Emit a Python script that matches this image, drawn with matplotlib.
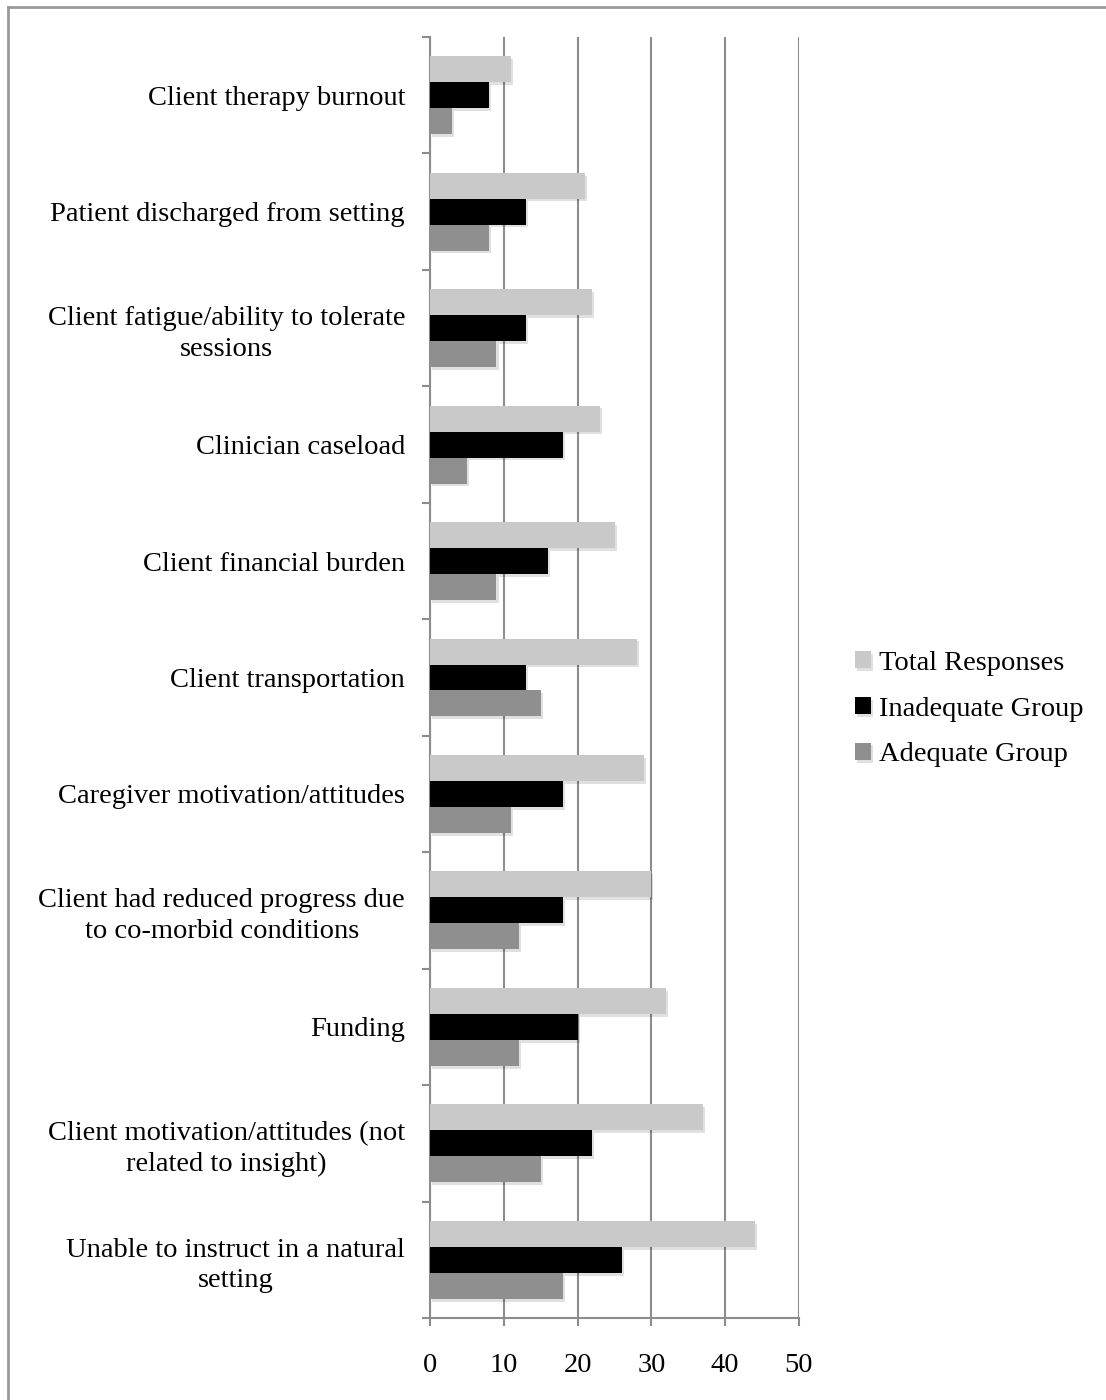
import numpy as np
import matplotlib.pyplot as plt
import matplotlib.patheffects as pe
from matplotlib.lines import Line2D

plt.rcParams['font.family'] = ['Liberation Serif', 'DejaVu Serif']

# categories listed bottom to top
categorias = [
    "Unable to instruct in a natural\nsetting",
    "Client motivation/attitudes (not\nrelated to insight)",
    "Funding",
    "Client had reduced progress due\nto co-morbid conditions",
    "Caregiver motivation/attitudes",
    "Client transportation",
    "Client financial burden",
    "Clinician caseload",
    "Client fatigue/ability to tolerate\nsessions",
    "Patient discharged from setting",
    "Client therapy burnout",
]
total = [44, 37, 32, 30, 29, 28, 25, 23, 22, 21, 11]
inadecuado = [26, 22, 20, 18, 18, 13, 16, 18, 13, 13, 8]
adecuado = [18, 15, 12, 12, 11, 15, 9, 5, 9, 8, 3]

series = [
    ("Total Responses", total, "#c9c9c9"),
    ("Inadequate Group", inadecuado, "#000000"),
    ("Adequate Group", adecuado, "#8f8f8f"),
]
ticks_x = [0, 10, 20, 30, 40, 50]

gris = "#8c8c8c"
fs = 20.5
W, H = 1106, 1400
fig = plt.figure(figsize=(W / 100, H / 100), dpi=100)
ax = fig.add_axes([430 / W, 1 - 1318 / H, (799 - 430) / W, (1318 - 37) / H])

y = np.arange(len(categorias))
alto = 0.223
sombra = [pe.SimplePatchShadow(offset=(1.5, -2), shadow_rgbFace="black", alpha=0.12), pe.Normal()]
for k, (nombre, vals, color) in enumerate(series):
    ax.barh(y + alto * (1 - k), vals, height=alto, color=color, label=nombre,
            zorder=3, path_effects=sombra)

ax.set_xlim(0, 50)
ax.set_ylim(-0.5, len(categorias) - 0.5)

# vertical gridlines
ax.set_xticks(ticks_x)
ax.set_xticklabels([str(t) for t in ticks_x], fontsize=fs)
ax.xaxis.grid(True, color=gris, linewidth=1.5, zorder=0)
ax.tick_params(axis="x", direction="out", length=6, width=1.5, color=gris, pad=19)

# category boundaries as ticks, labels centered between them
ax.set_yticks(np.arange(-0.5, len(categorias), 1.0))
ax.set_yticklabels([])
ax.set_yticks(y, minor=True)
ax.set_yticklabels(categorias, minor=True, fontsize=fs, multialignment="center",
                   linespacing=1.3)
ax.tick_params(axis="y", which="major", direction="out", length=6, width=1.5, color=gris)
ax.tick_params(axis="y", which="minor", length=0, pad=18)

for s in ["top", "right"]:
    ax.spines[s].set_visible(False)
for s in ["left", "bottom"]:
    ax.spines[s].set_color(gris)
    ax.spines[s].set_linewidth(1.5)

ax.legend(loc="center left", bbox_to_anchor=(855 / W, 1 - 709 / H),
          bbox_transform=fig.transFigure, frameon=False, fontsize=fs,
          borderpad=0, borderaxespad=0,
          handlelength=0.55, handleheight=0.55, handletextpad=0.3, labelspacing=0.73)

# chart border
fig.add_artist(Line2D([8 / W, 8 / W], [0, 1 - 7 / H], color="#9a9a9a", linewidth=2))
fig.add_artist(Line2D([8 / W, 1], [1 - 7 / H, 1 - 7 / H], color="#9a9a9a", linewidth=2))

fig.savefig("out.png", dpi=100, facecolor="white")
